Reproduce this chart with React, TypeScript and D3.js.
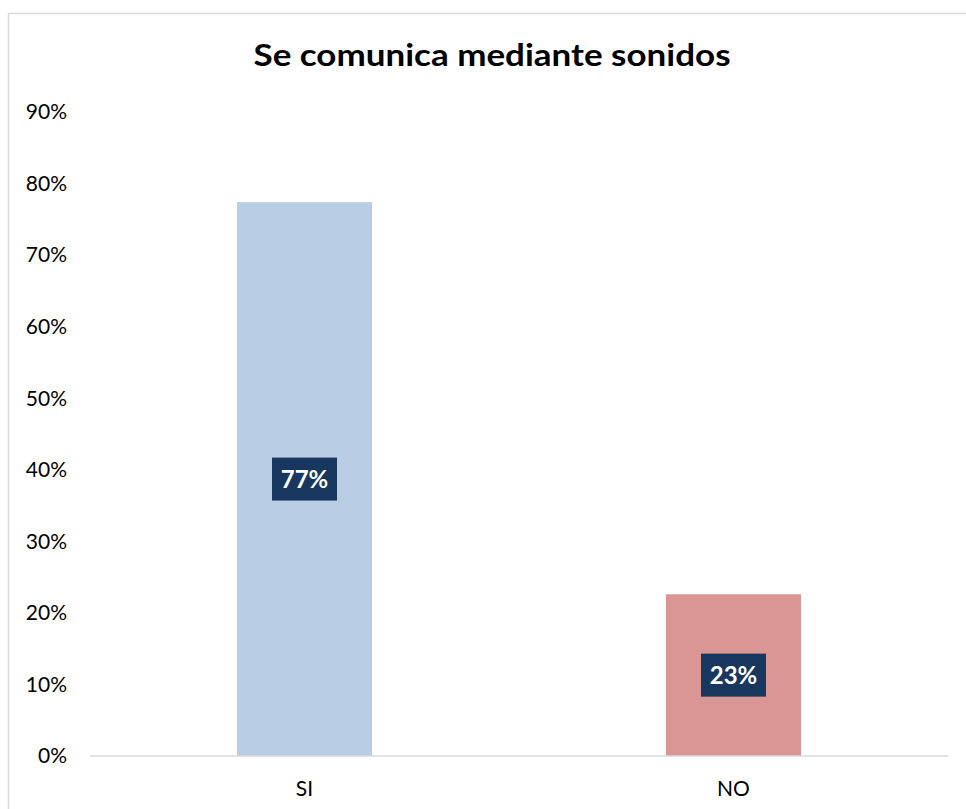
import React from "react";
import * as d3 from "d3";

const title = "Se comunica mediante sonidos";
const categories = ["SI", "NO"];
const values = [0.774, 0.226];
const labels = ["77%", "23%"];
const barColors = ["#B9CDE5", "#D99694"];
const yTicks = [0, 0.1, 0.2, 0.3, 0.4, 0.5, 0.6, 0.7, 0.8, 0.9];

const W = 966;
const H = 809;
const FONT = "Lato, 'Open Sans', sans-serif";

export default function App() {
  const x = d3
    .scaleBand<string>()
    .domain(categories)
    .range([90, 948])
    .paddingInner(0.685)
    .paddingOuter(0.3425);
  const y = d3.scaleLinear().domain([0, 0.9]).range([756, 112]);
  const fmt = d3.format(".0%");

  return (
    <svg
      width={W}
      height={H}
      style={{ position: "absolute", left: 0, top: 0, background: "#fff" }}
      fontFamily={FONT}
    >
      <rect x={8.5} y={13.5} width={W} height={H} fill="#fff" stroke="#D9D9D9" strokeWidth={1.5} />
      <text
        x={492}
        y={66}
        textAnchor="middle"
        fontSize={31}
        fontWeight={700}
        fill="#000"
        textLength={477}
        lengthAdjust="spacingAndGlyphs"
      >
        {title}
      </text>
      {yTicks.map((t) => (
        <text key={t} x={67} y={y(t)} dy="0.35em" textAnchor="end" fontSize={21} fill="#000">
          {fmt(t)}
        </text>
      ))}
      {categories.map((c, i) => {
        const bx = x(c) as number;
        const bw = x.bandwidth();
        const top = y(values[i]);
        const mid = (top + y(0)) / 2;
        const cx = bx + bw / 2;
        return (
          <g key={c}>
            <rect x={bx} y={top} width={bw} height={y(0) - top} fill={barColors[i]} />
            <rect x={cx - 32.5} y={mid - 21.5} width={65} height={43} fill="#17375E" />
            <text x={cx} y={mid} dy="0.36em" textAnchor="middle" fontSize={24} fontWeight={700} fill="#fff">
              {labels[i]}
            </text>
            <text x={cx} y={789} dy="0.35em" textAnchor="middle" fontSize={21} fill="#000">
              {c}
            </text>
          </g>
        );
      })}
      <line x1={90} x2={948} y1={756} y2={756} stroke="#D9D9D9" strokeWidth={1.5} />
    </svg>
  );
}
